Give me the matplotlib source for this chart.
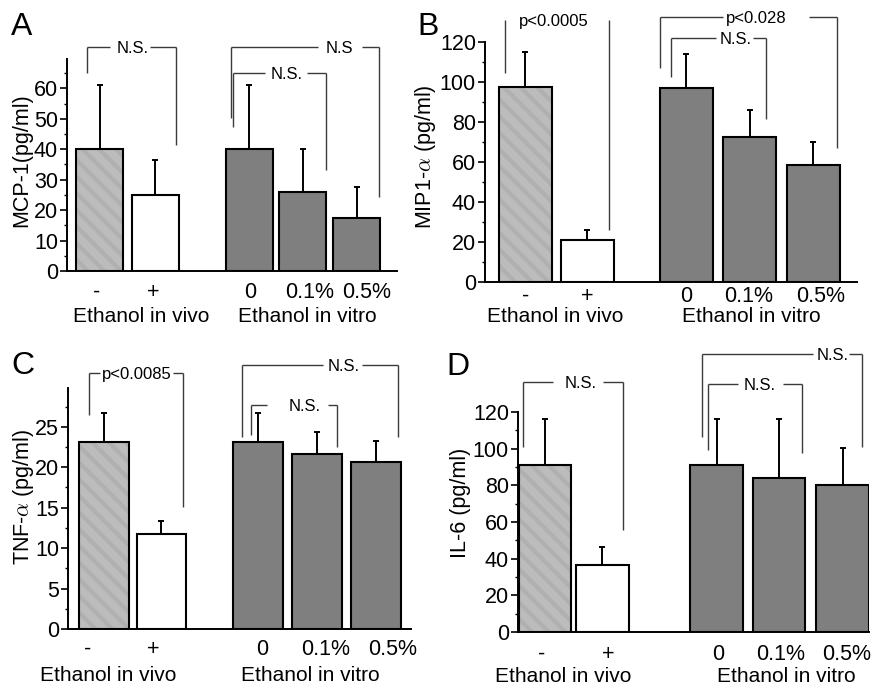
import matplotlib
matplotlib.use("Agg")
import matplotlib.pyplot as plt
from matplotlib.ticker import MultipleLocator
from matplotlib.transforms import blended_transform_factory

plt.rcParams["font.family"] = ["Liberation Sans", "DejaVu Sans"]
plt.rcParams["mathtext.fontset"] = "cm"
plt.rcParams["hatch.linewidth"] = 3.0

conditions = ["-", "+", "0", "0.1%", "0.5%"]
group_labels = ["Ethanol in vivo", "Ethanol in vitro"]

mcp1_mean = [40, 25, 40, 26, 17.5]
mcp1_err = [21, 11.5, 21, 14, 10]
mip1_mean = [97.5, 21, 97, 72.5, 58.5]
mip1_err = [17.5, 5, 17, 13.5, 11.5]
tnf_mean = [23.1, 11.7, 23.1, 21.6, 20.6]
tnf_err = [3.6, 1.6, 3.6, 2.7, 2.7]
il6_mean = [91, 36.5, 91, 84, 80]
il6_err = [25, 10, 25, 32, 20.5]

W, H = 876, 688
LIGHT = "#bcbcbc"
STRIPE = "#b0b0b0"
DARK = "#7f7f7f"

# panel layouts (pixel rects: left, top, right, bottom)
panels = [
    dict(letter="A", letter_xy=(11, 35), rect=(67, 59.5, 397, 271), ylim=69.5,
         major=10, minor=5, ylabel="MCP-1(pg/ml)", ylabel_xy=(22, 160),
         mean=mcp1_mean, err=mcp1_err,
         pos=[0, 1.02, 2.75, 3.73, 4.72], width=0.87, xlim=(-0.6, 5.46),
         tick_x=[-0.05, 0.98, 2.76, 3.86, 4.91], tick_base=298,
         group_x=[0.76, 3.81], group_base=322,
         brackets=[(-0.23, 1.40, 73.6, 65, 41.4, "N.S.", 0.6, 0.19, 0.93),
                   (2.41, 5.13, 73.6, 50.3, 24.3, "N.S", 4.41, 4.01, 4.82),
                   (2.45, 4.16, 65, 47.3, 33.2, "N.S.", 3.44, 3.04, 3.81)]),
    dict(letter="B", letter_xy=(417, 35), rect=(485, 42, 857, 282), ylim=120,
         major=20, minor=10, ylabel="MIP1-$\\alpha$ (pg/ml)", ylabel_xy=(425, 157),
         mean=mip1_mean, err=mip1_err,
         pos=[0, 0.98, 2.55, 3.56, 4.57], width=0.84, xlim=(-0.64, 5.26),
         tick_x=[0, 0.98, 2.55, 3.54, 4.69], tick_base=302,
         group_x=[0.47, 3.58], group_base=322,
         brackets=[(-0.33, 1.33, 131, 104.5, 26, "p<0.0005", 0.45, None, None),
                   (2.13, 4.94, 132.5, 107, 67, "p<0.028", 3.66, 3.13, 4.5),
                   (2.31, 3.82, 122, 102.5, 81.5, "N.S.", 3.33, 3.02, 3.61)]),
    dict(letter="C", letter_xy=(11, 374), rect=(68, 388, 411, 629), ylim=29.8,
         major=5, minor=2.5, ylabel="TNF-$\\alpha$ (pg/ml)", ylabel_xy=(23, 497),
         mean=tnf_mean, err=tnf_err,
         pos=[0, 0.98, 2.63, 3.64, 4.65], width=0.85, xlim=(-0.62, 5.25),
         tick_x=[-0.29, 0.84, 2.70, 3.79, 4.94], tick_base=655,
         group_x=[0.07, 3.52], group_base=681,
         brackets=[(-0.26, 1.35, 31.6, 26.4, 15.1, "p<0.0085", 0.56, -0.07, 1.18),
                   (2.36, 5.03, 32.7, 23.8, 23.8, "N.S.", 4.10, 3.74, 4.41),
                   (2.51, 3.98, 27.7, 24.0, 22.5, "N.S.", 3.43, 2.79, 3.83)]),
    dict(letter="D", letter_xy=(446, 375), rect=(518, 412, 869, 632), ylim=120,
         major=20, minor=10, ylabel="IL-6 (pg/ml)", ylabel_xy=(461, 503),
         mean=il6_mean, err=il6_err,
         pos=[0, 0.91, 2.72, 3.71, 4.72], width=0.83, xlim=(-0.43, 5.14),
         tick_x=[-0.06, 1.0, 2.75, 3.73, 4.79], tick_base=660,
         group_x=[0.29, 3.83], group_base=682,
         brackets=[(-0.35, 1.24, 136.4, 101, 55.6, "N.S.", 0.56, 0.13, 0.92),
                   (2.49, 5.03, 151.7, 106.4, 100.9, "N.S.", 4.56, 4.25, 4.83),
                   (2.59, 4.08, 135.3, 99.3, 97.7, "N.S.", 3.40, 3.06, 3.78)]),
]


def bracket(ax, x1, x2, ytop, yb1, yb2, label, tx, gl, gr):
    kw = dict(color="#3a3a3a", lw=1.0, clip_on=False, solid_capstyle="butt")
    ax.plot([x1, x1], [yb1, ytop], **kw)
    ax.plot([x2, x2], [yb2, ytop], **kw)
    if gl is not None:
        ax.plot([x1, gl], [ytop, ytop], **kw)
        ax.plot([gr, x2], [ytop, ytop], **kw)
    ax.annotate(label, (tx, ytop), xytext=(0, -4.3), textcoords="offset points",
                ha="center", va="baseline", fontsize=12, annotation_clip=False)


fig = plt.figure(figsize=(W / 100, H / 100), dpi=100)

for p in panels:
    l, t, r, b = p["rect"]
    ax = fig.add_axes([l / W, 1 - b / H, (r - l) / W, (b - t) / H])
    ax.patch.set_alpha(0)
    pos = p["pos"]
    faces = [LIGHT, "white", DARK, DARK, DARK]
    ax.bar(pos[:1], p["mean"][:1], width=p["width"], color=LIGHT,
           edgecolor=STRIPE, hatch="\\\\", linewidth=0)
    ax.bar(pos[1:], p["mean"][1:], width=p["width"], color=faces[1:],
           edgecolor="black", linewidth=1.5)
    ax.bar(pos[:1], p["mean"][:1], width=p["width"], fill=False,
           edgecolor="black", linewidth=1.5)
    ax.errorbar(pos, p["mean"], yerr=[[0] * 5, p["err"]], fmt="none",
                ecolor="black", elinewidth=1.4, capsize=2.5, capthick=1.4)

    ax.set_xlim(*p["xlim"])
    ax.set_ylim(0, p["ylim"])
    ax.spines["top"].set_visible(False)
    ax.spines["right"].set_visible(False)
    ax.spines["left"].set_linewidth(1.4)
    ax.spines["bottom"].set_linewidth(1.4)
    ax.set_xticks([])
    ax.yaxis.set_major_locator(MultipleLocator(p["major"]))
    ax.yaxis.set_minor_locator(MultipleLocator(p["minor"]))
    ax.tick_params(axis="y", which="major", length=5, width=1.2, pad=1.5,
                   labelsize=15.5)
    ax.tick_params(axis="y", which="minor", length=2.5, width=1.0)

    for br in p["brackets"]:
        bracket(ax, *br)

    tr = blended_transform_factory(ax.transData, fig.transFigure)
    for x, lab in zip(p["tick_x"], conditions):
        ax.text(x, 1 - p["tick_base"] / H, lab, transform=tr, ha="center",
                va="baseline", fontsize=15.5)
    for x, lab in zip(p["group_x"], group_labels):
        ax.text(x, 1 - p["group_base"] / H, lab, transform=tr, ha="center",
                va="baseline", fontsize=15)

    fig.text(p["ylabel_xy"][0] / W, 1 - p["ylabel_xy"][1] / H, p["ylabel"],
             rotation=90, ha="center", va="center", fontsize=15.5)
    fig.text(p["letter_xy"][0] / W, 1 - p["letter_xy"][1] / H, p["letter"],
             ha="left", va="baseline", fontsize=23)

fig.savefig("out.png", dpi=100)
